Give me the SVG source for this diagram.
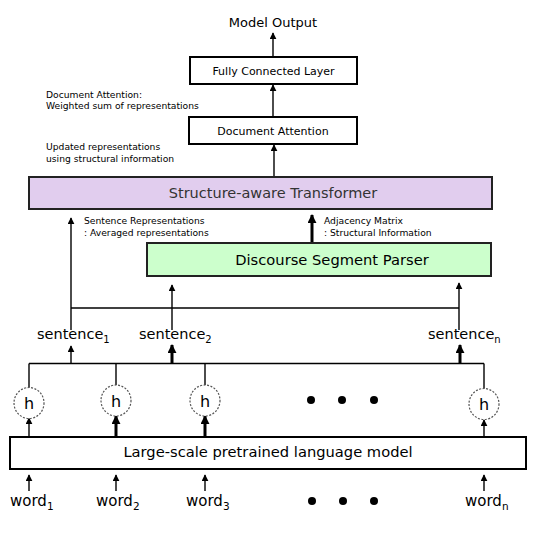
<svg xmlns="http://www.w3.org/2000/svg" width="540" height="539" viewBox="0 0 540 539">
<defs>
<marker id="ah" viewBox="0 0 10 10" refX="9" refY="5" markerWidth="7" markerHeight="7" markerUnits="userSpaceOnUse" orient="auto"><path d="M0,0 L10,5 L0,10 z" fill="#000"/></marker>
<marker id="ahb" viewBox="0 0 10 10" refX="9" refY="5" markerWidth="9" markerHeight="9" markerUnits="userSpaceOnUse" orient="auto"><path d="M0,0 L10,5 L0,10 z" fill="#000"/></marker>
<style>
text{font-family:"DejaVu Sans","Liberation Sans",sans-serif;fill:#000}
.box{fill:#fff;stroke:#000;stroke-width:2}
.c{stroke:#000;stroke-width:1.4;fill:none}
.a{stroke:#000;stroke-width:1.4;fill:none;marker-end:url(#ah)}
.ab{stroke:#000;stroke-width:3;fill:none;marker-end:url(#ahb)}
.h{fill:#fff;stroke:#555;stroke-width:1.2;stroke-dasharray:2 1.5}
.sm{font-size:9.2px}
.dot{fill:#000}
</style>
</defs>
<rect width="540" height="539" fill="#fff"/>
<g id="connectors">
<line class="a" x1="273" y1="57" x2="273" y2="33"/>
<line class="a" x1="273" y1="117" x2="273" y2="85"/>
<line class="a" x1="274" y1="177" x2="274" y2="145"/>
<line class="a" x1="71" y1="330" x2="71" y2="218"/>
<line class="c" x1="71" y1="308" x2="459" y2="308"/>
<line class="a" x1="172" y1="330" x2="172" y2="285"/>
<line class="a" x1="459" y1="330" x2="459" y2="283"/>
<line class="ab" x1="312" y1="243" x2="312" y2="215"/>
<line class="c" x1="29" y1="363.5" x2="484" y2="363.5"/>
<line class="c" x1="29" y1="363.5" x2="29" y2="388"/>
<line class="c" x1="116" y1="363.5" x2="116" y2="385"/>
<line class="c" x1="205" y1="363.5" x2="205" y2="385"/>
<line class="c" x1="484" y1="363.5" x2="484" y2="389"/>
<line class="a" x1="71" y1="363.5" x2="71" y2="346"/>
<line class="ab" x1="172" y1="363.5" x2="172" y2="345"/>
<line class="ab" x1="460" y1="363.5" x2="460" y2="345"/>
<line class="a" x1="29" y1="437" x2="29" y2="418"/>
<line class="ab" x1="116" y1="437" x2="116" y2="416"/>
<line class="ab" x1="205" y1="437" x2="205" y2="416"/>
<line class="a" x1="484" y1="437" x2="484" y2="420"/>
<line class="a" x1="29" y1="491" x2="29" y2="475"/>
<line class="a" x1="116" y1="491" x2="116" y2="475"/>
<line class="a" x1="205" y1="491" x2="205" y2="475"/>
<line class="a" x1="484" y1="491" x2="484" y2="475"/>
</g>
<g id="model-output"><text x="273" y="27" font-size="13" text-anchor="middle">Model Output</text></g>
<g id="fc"><rect class="box" x="190" y="57" width="167" height="27"/><text x="273.5" y="75" font-size="11" text-anchor="middle">Fully Connected Layer</text></g>
<g id="da"><rect class="box" x="189" y="117" width="168" height="27"/><text x="273" y="135" font-size="11" text-anchor="middle">Document Attention</text></g>
<g id="note-da"><text class="sm" x="46" y="98">Document Attention:</text><text class="sm" x="46" y="109">Weighted sum of representations</text></g>
<g id="note-upd"><text class="sm" x="46" y="150">Updated representations</text><text class="sm" x="46" y="161.5">using structural information</text></g>
<g id="st"><rect x="29" y="177" width="463" height="32" fill="#e1cdee" stroke="#222" stroke-width="2"/><text x="273" y="198" font-size="14.5" text-anchor="middle" fill="#333" style="fill:#333">Structure-aware Transformer</text></g>
<g id="note-sent"><text class="sm" x="84" y="224">Sentence Representations</text><text class="sm" x="84" y="235.5">: Averaged representations</text></g>
<g id="note-adj"><text class="sm" x="324" y="224">Adjacency Matrix</text><text class="sm" x="324" y="235.5">: Structural Information</text></g>
<g id="dsp"><rect x="147" y="243" width="344" height="33" fill="#ccffcc" stroke="#222" stroke-width="2"/><text x="332" y="265" font-size="14.7" text-anchor="middle">Discourse Segment Parser</text></g>
<g id="sent1"><text x="37" y="339" font-size="14.5">sentence<tspan font-size="10" dy="4">1</tspan></text></g>
<g id="sent2"><text x="139" y="339" font-size="14.5">sentence<tspan font-size="10" dy="4">2</tspan></text></g>
<g id="sentn"><text x="428" y="339" font-size="14.5">sentence<tspan font-size="10" dy="4">n</tspan></text></g>
<g id="h1"><ellipse class="h" cx="29" cy="403" rx="15" ry="15.5"/><text x="29" y="409" font-size="16" text-anchor="middle">h</text></g>
<g id="h2"><ellipse class="h" cx="116" cy="400.5" rx="15" ry="15.5"/><text x="116" y="406.5" font-size="16" text-anchor="middle">h</text></g>
<g id="h3"><ellipse class="h" cx="205" cy="400.5" rx="15" ry="15.5"/><text x="205" y="406.5" font-size="16" text-anchor="middle">h</text></g>
<g id="dots-h"><circle class="dot" cx="311" cy="400" r="4"/><circle class="dot" cx="342" cy="400" r="4"/><circle class="dot" cx="374" cy="400" r="4"/></g>
<g id="hn"><ellipse class="h" cx="484" cy="404" rx="15" ry="15.5"/><text x="484" y="410" font-size="16" text-anchor="middle">h</text></g>
<g id="lm"><rect class="box" x="10" y="437" width="516" height="32"/><text x="268" y="457" font-size="14.7" text-anchor="middle">Large-scale pretrained language model</text></g>
<g id="w1"><text x="10" y="506" font-size="15">word<tspan font-size="10.5" dy="4">1</tspan></text></g>
<g id="w2"><text x="96" y="506" font-size="15">word<tspan font-size="10.5" dy="4">2</tspan></text></g>
<g id="w3"><text x="186" y="506" font-size="15">word<tspan font-size="10.5" dy="4">3</tspan></text></g>
<g id="dots-w"><circle class="dot" cx="312" cy="501" r="4"/><circle class="dot" cx="343" cy="501" r="4"/><circle class="dot" cx="374" cy="501" r="4"/></g>
<g id="wn"><text x="465" y="506" font-size="15">word<tspan font-size="10.5" dy="4">n</tspan></text></g>
</svg>
